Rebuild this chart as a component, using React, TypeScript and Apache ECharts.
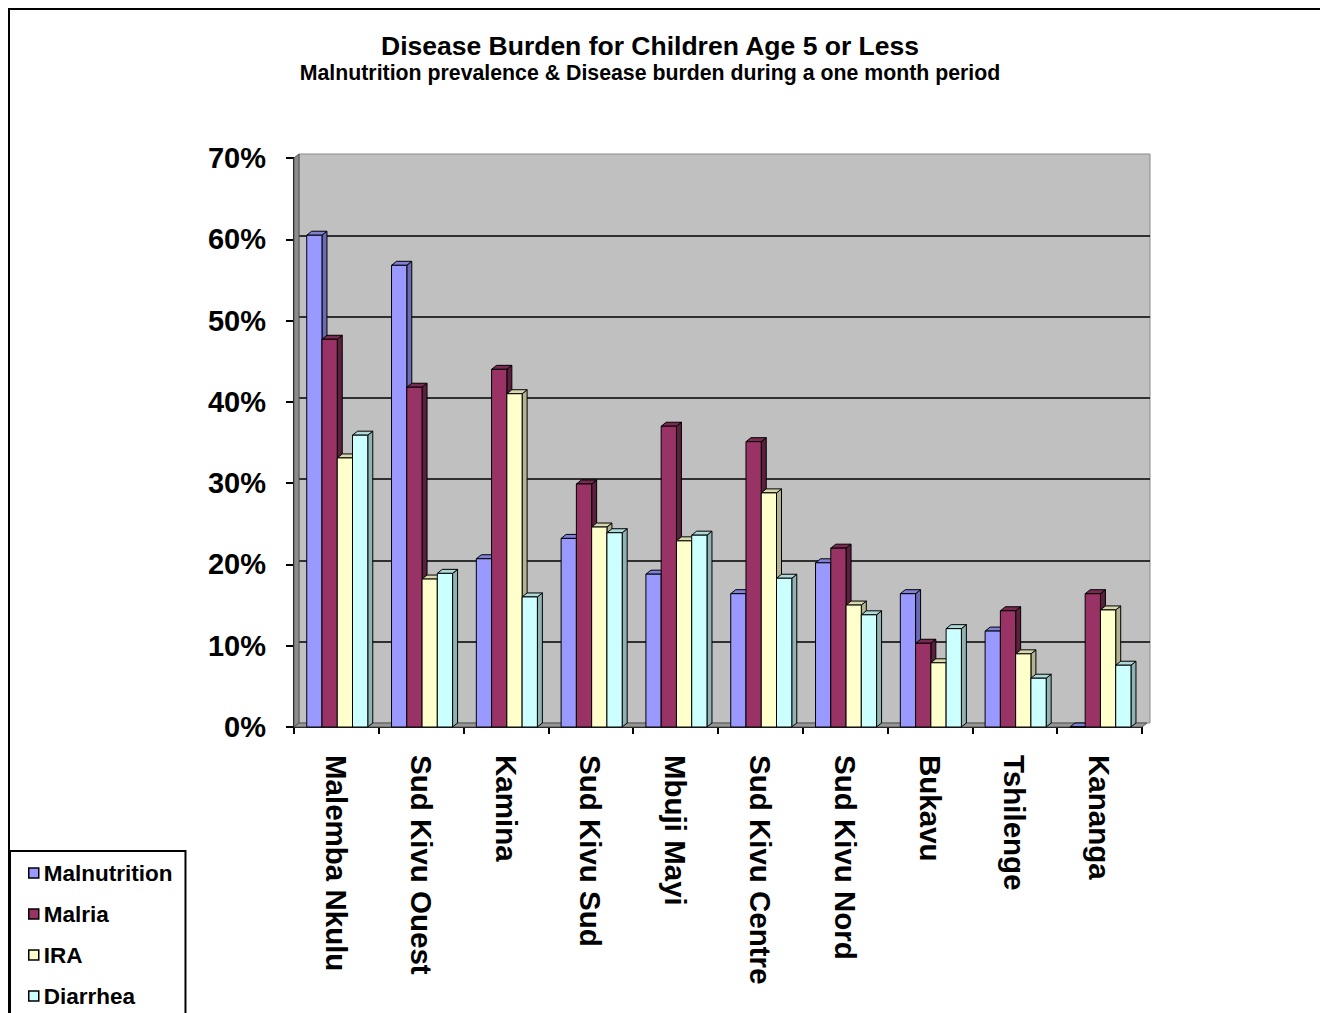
import React, { useEffect, useRef } from "react";
import * as echarts from "echarts";

// Sites surveyed
const categories = [
  "Malemba Nkulu",
  "Sud Kivu Ouest",
  "Kamina",
  "Sud Kivu Sud",
  "Mbuji Mayi",
  "Sud Kivu Centre",
  "Sud Kivu Nord",
  "Bukavu",
  "Tshilenge",
  "Kananga",
];

// Prevalence in percent, per site
const malnutrition = [60.5, 56.8, 20.7, 23.2, 18.8, 16.4, 20.2, 16.4, 11.8, 0];
const malria = [47.7, 41.8, 44.0, 29.9, 37.0, 35.1, 22.0, 10.3, 14.3, 16.4];
const ira = [33.1, 18.2, 41.0, 24.6, 22.9, 28.8, 15.0, 7.9, 9.0, 14.4];
const diarrhea = [35.9, 18.9, 16.0, 23.9, 23.6, 18.3, 13.8, 12.1, 6.0, 7.6];

const seriesNames = ["Malnutrition", "Malria", "IRA", "Diarrhea"];
const seriesValues = [malnutrition, malria, ira, diarrhea];

const yTicks = { min: 0, max: 70, interval: 10 };

const FONT = "'Liberation Sans', Arial, Helvetica, sans-serif";
const frontColors = ["#9999FF", "#993366", "#FFFFCC", "#CCFFFF"];
const sideColors = ["#6B6BB3", "#5C1F3D", "#B3B38F", "#8FB3B3"];
const topColors = ["#8080D9", "#7A2952", "#D9D9AD", "#ADD9D9"];

// depth offset of the pseudo 3D look
const DX = 5;
const DY = 4;

const GRID = { left: 286, top: 150, width: 848, height: 569 };

function barRenderer(s: number) {
  return (params: any, api: any) => {
    const cat = api.value(0);
    const val = api.value(1);
    const top = api.coord([cat, val]);
    const base = api.coord([cat, 0]);
    const band = api.size([1, 0])[0];
    const w = band * 0.18;
    const x0 = top[0] - band / 2 + band * 0.15 + s * w;
    const y = top[1];
    const yb = base[1];
    const stroke = { stroke: "#000", lineWidth: 1 };
    return {
      type: "group",
      children: [
        {
          type: "polygon",
          shape: {
            points: [
              [x0 + w, y],
              [x0 + w + DX, y - DY],
              [x0 + w + DX, yb - DY],
              [x0 + w, yb],
            ],
          },
          style: { fill: sideColors[s], ...stroke },
        },
        {
          type: "polygon",
          shape: {
            points: [
              [x0, y],
              [x0 + DX, y - DY],
              [x0 + w + DX, y - DY],
              [x0 + w, y],
            ],
          },
          style: { fill: topColors[s], ...stroke },
        },
        {
          type: "rect",
          shape: { x: x0, y, width: w, height: yb - y },
          style: { fill: frontColors[s], ...stroke },
        },
      ],
    };
  };
}

// floor and left side wall of the plot box
function wallRenderer(params: any) {
  const cs = params.coordSys;
  const L = cs.x;
  const T = cs.y;
  const B = cs.y + cs.height;
  const R = cs.x + cs.width;
  return {
    type: "group",
    children: [
      {
        type: "polygon",
        shape: { points: [[L, T], [L + DX, T - DY], [L + DX, B - DY], [L, B]] },
        style: { fill: "#8C8C8C", stroke: "#555", lineWidth: 1 },
      },
      {
        type: "polygon",
        shape: { points: [[L, B], [L + DX, B - DY], [R + DX, B - DY], [R, B]] },
        style: { fill: "#969696", stroke: "#555", lineWidth: 1 },
      },
    ],
  };
}

export default function App() {
  const ref = useRef<HTMLDivElement>(null);

  useEffect(() => {
    if (!ref.current) return;
    const chart = echarts.init(ref.current, undefined, { renderer: "svg" });

    const barSeries = seriesNames.map((name, s) => ({
      name,
      type: "custom",
      xAxisIndex: 0,
      yAxisIndex: 0,
      z: 3,
      renderItem: barRenderer(s),
      itemStyle: { color: frontColors[s], borderColor: "#000", borderWidth: 1 },
      encode: { x: 0, y: 1 },
      data: seriesValues[s].map((v, i) => [i, v]),
    }));

    chart.setOption({
      animation: false,
      backgroundColor: "#fff",
      textStyle: { fontFamily: FONT },
      title: [
        {
          text: "Disease Burden for Children Age 5 or Less",
          left: 637,
          top: 19,
          textAlign: "center",
          textStyle: { fontFamily: FONT, fontSize: 26.5, fontWeight: "bold", color: "#000" },
        },
        {
          text: "Malnutrition prevalence & Disease burden during a one month period",
          left: 637,
          top: 49,
          textAlign: "center",
          textStyle: { fontFamily: FONT, fontSize: 21.3, fontWeight: "bold", color: "#000" },
        },
      ],
      legend: {
        orient: "vertical",
        left: 2,
        top: 843,
        height: 400,
        data: seriesNames,
        icon: "rect",
        itemWidth: 10,
        itemHeight: 10,
        itemGap: 17,
        padding: [10, 13, 60, 18],
        borderColor: "#000",
        borderWidth: 2,
        backgroundColor: "#fff",
        itemStyle: { borderColor: "#000", borderWidth: 1.5 },
        textStyle: {
          fontFamily: FONT,
          fontSize: 22.5,
          fontWeight: "bold",
          color: "#000",
          lineHeight: 24,
        },
      },
      grid: [
        { ...GRID, show: false },
        {
          left: GRID.left + DX,
          top: GRID.top - DY,
          width: GRID.width + 3,
          height: GRID.height,
          show: true,
          backgroundColor: "#C0C0C0",
          borderColor: "#8A8A8A",
          borderWidth: 1,
        },
      ],
      xAxis: [
        {
          type: "category",
          gridIndex: 0,
          data: categories,
          axisLine: { show: true, lineStyle: { color: "#000", width: 2 } },
          axisTick: { show: true, length: 7, lineStyle: { color: "#000", width: 2 } },
          axisLabel: {
            rotate: -90,
            margin: 28,
            fontFamily: FONT,
            fontSize: 29.5,
            fontWeight: "bold",
            color: "#000",
            interval: 0,
          },
          splitLine: { show: false },
        },
        { type: "category", gridIndex: 1, data: categories, show: false },
      ],
      yAxis: [
        {
          type: "value",
          gridIndex: 0,
          ...yTicks,
          axisLine: { show: true, lineStyle: { color: "#000", width: 2 } },
          axisTick: { show: true, length: 8, lineStyle: { color: "#000", width: 2 } },
          axisLabel: {
            formatter: "{value}%",
            margin: 28,
            fontFamily: FONT,
            fontSize: 29,
            fontWeight: "bold",
            color: "#000",
          },
          splitLine: { show: false },
        },
        {
          type: "value",
          gridIndex: 1,
          ...yTicks,
          axisLine: { show: false },
          axisTick: { show: false },
          axisLabel: { show: false },
          splitLine: {
            show: true,
            showMinLine: false,
            showMaxLine: false,
            lineStyle: { color: "#000", width: 1.5 },
          },
        },
      ],
      graphic: [
        {
          type: "line",
          silent: true,
          z: 100,
          shape: { x1: 1, y1: 1, x2: 1400, y2: 1 },
          style: { stroke: "#000", lineWidth: 2 },
        },
        {
          type: "line",
          silent: true,
          z: 100,
          shape: { x1: 1, y1: 0, x2: 1, y2: 1100 },
          style: { stroke: "#000", lineWidth: 2 },
        },
      ],
      series: [
        {
          name: "walls",
          type: "custom",
          xAxisIndex: 0,
          yAxisIndex: 0,
          z: 1,
          silent: true,
          renderItem: wallRenderer,
          data: [[0, 0]],
        },
        ...barSeries,
      ],
    });

    return () => chart.dispose();
  }, []);

  return <div ref={ref} style={{ width: 1320, height: 1005 }} />;
}
